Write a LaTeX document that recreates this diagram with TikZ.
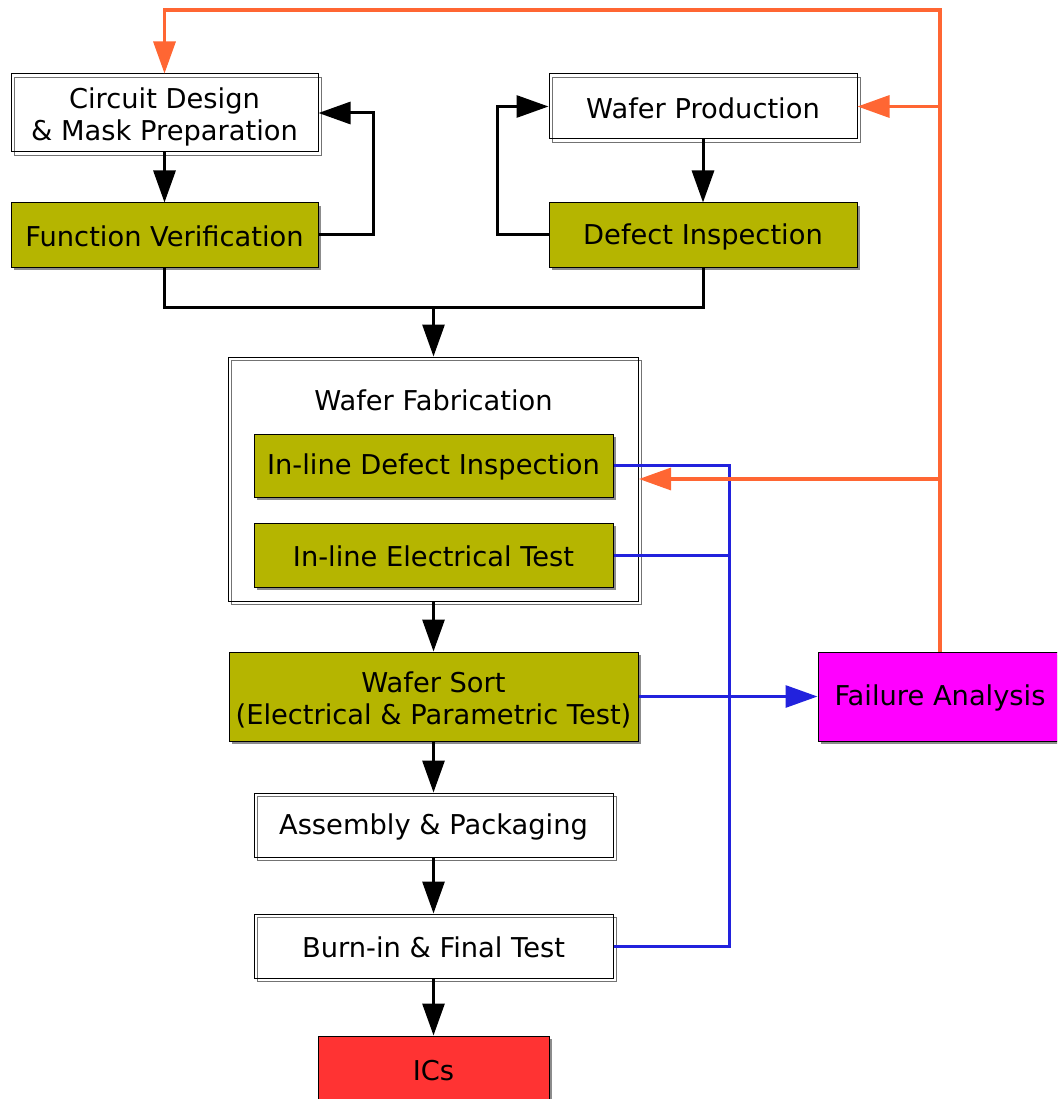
\documentclass[tikz,border=0pt]{standalone}
\usepackage{fontspec}
\setmainfont{DejaVu Sans}
\usetikzlibrary{arrows.meta,shadows}
\definecolor{olivefill}{HTML}{B5B500}
\definecolor{famag}{HTML}{FF00FF}
\definecolor{icred}{HTML}{FF3333}
\definecolor{fborange}{HTML}{FF6633}
\definecolor{fbblue}{HTML}{2222DD}
\tikzset{
  base/.style={rectangle, draw=black, line width=1pt, align=center, inner sep=0pt,
    font=\fontsize{27.3}{32}\selectfont},
  solidbox/.style={base, drop shadow={shadow xshift=3pt, shadow yshift=-3pt, fill=black!45, opacity=1}},
  olivebox/.style={solidbox, fill=olivefill},
  dblbox/.style={base, fill=none, drop shadow={shadow xshift=3pt, shadow yshift=-3pt, fill=white, draw=black!55, line width=0.9pt, opacity=1}},
  flow/.style={line width=3pt, -{Triangle[length=32pt,width=22pt]}},
  flowplain/.style={line width=3pt},
  orangeline/.style={draw=fborange, line width=3.2pt},
  orangearrow/.style={orangeline, -{Triangle[length=32pt,width=22pt]}},
  blueline/.style={draw=fbblue, line width=3pt},
  bluearrow/.style={blueline, -{Triangle[length=32pt,width=22pt]}},
}
\newcommand{\lowertext}[2]{\raisebox{-#1}[\height][\depth]{#2}}
\begin{document}
\begin{tikzpicture}[x=1pt,y=-1pt]
\useasboundingbox (0,0) rectangle (1057,1099);
\begin{scope}
\clip (0,0) rectangle (1057,1099);
% nodes
\node[dblbox, minimum width=307pt, minimum height=78pt] (cd) at (164.5,113) {\lowertext{5pt}{\begin{tabular}{@{}c@{}}Circuit Design\\\& Mask Preparation\end{tabular}}};
\node[olivebox, minimum width=307pt, minimum height=64pt] (fv) at (164.5,235) {\lowertext{1.5pt}{Function Verification}};
\node[dblbox, minimum width=308pt, minimum height=65pt] (wp) at (703,106.5) {\lowertext{1.5pt}{Wafer Production}};
\node[olivebox, minimum width=308pt, minimum height=64pt] (di) at (703,235) {\lowertext{1.5pt}{Defect Inspection}};
\node[dblbox, minimum width=410pt, minimum height=244pt] (wfab) at (433.5,479) {};
\node[font=\fontsize{27.3}{32}\selectfont] (wftitle) at (433.5,400) {Wafer Fabrication};
\node[olivebox, minimum width=359pt, minimum height=63pt] (ildi) at (433.5,465.5) {\lowertext{1.5pt}{In-line Defect Inspection}};
\node[olivebox, minimum width=359pt, minimum height=64pt] (ilet) at (433.5,555) {\lowertext{1.5pt}{In-line Electrical Test}};
\node[olivebox, minimum width=409pt, minimum height=89pt] (ws) at (433.5,696.5) {\lowertext{6pt}{\begin{tabular}{@{}c@{}}Wafer Sort\\(Electrical \& Parametric Test)\end{tabular}}};
\node[solidbox, fill=famag, minimum width=244pt, minimum height=89pt] (fa) at (940,696.5) {\lowertext{1.5pt}{Failure Analysis}};
\node[dblbox, minimum width=359pt, minimum height=64pt] (ap) at (433.5,825) {\lowertext{1.5pt}{Assembly \& Packaging}};
\node[dblbox, minimum width=359pt, minimum height=64pt] (bi) at (433.5,946) {\lowertext{1.5pt}{Burn-in \& Final Test}};
\node[solidbox, fill=icred, minimum width=231pt, minimum height=66pt] (ics) at (433.5,1069) {\lowertext{1.5pt}{ICs}};
% coordinates
\coordinate (fvr) at (373,235);
\coordinate (dil) at (497,235);
\coordinate (mj) at (433.5,307);
\coordinate (otr) at (940,10);
\coordinate (bt) at (729,465.5);
\coordinate (bb) at (729,946);
% black flow
\draw[flow] (cd.south) -- (fv.north);
\draw[flow] (fv.east) -- (fvr) |- (cd.east);
\draw[flow] (wp.south) -- (di.north);
\draw[flow] (di.west) -- (dil) |- (wp.west);
\draw[flowplain] (fv.south) |- (mj) -| (di.south);
\draw[flow] (mj) -- (wfab.north);
\draw[flow] (wfab.south) -- (ws.north);
\draw[flow] (ws.south) -- (ap.north);
\draw[flow] (ap.south) -- (bi.north);
\draw[flow] (bi.south) -- (ics.north);
% blue
\draw[blueline] (ildi.east) -- (bt) -- (bb) -- (bi.east);
\draw[blueline] (ilet.east) -- (bt |- ilet.east);
\draw[bluearrow] (ws.east) -- (fa.west);
% orange
\draw[orangearrow] (fa.north) -- (otr) -| (cd.north);
\draw[orangearrow] (fa.north |- wp.east) -- (wp.east);
\draw[orangearrow] (fa.north |- wfab.east) -- (wfab.east);
\end{scope}
\end{tikzpicture}
\end{document}
